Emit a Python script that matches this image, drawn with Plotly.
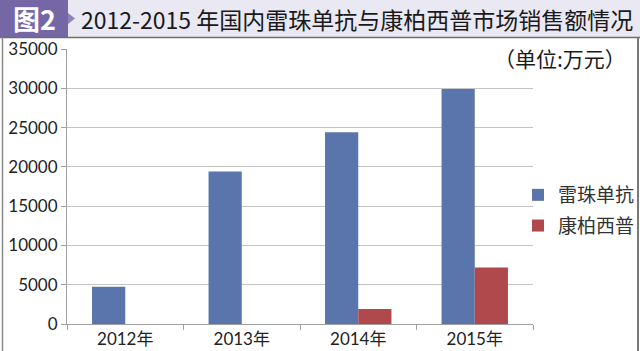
import plotly.graph_objects as go

categories = ["2012年", "2013年", "2014年", "2015年"]
ranibizumab = [4750, 19400, 24400, 29900]
conbercept = [0, 0, 1900, 7200]
series_names = ["雷珠单抗", "康柏西普"]
title_text = "2012-2015 年国内雷珠单抗与康柏西普市场销售额情况"
unit_text = "（单位:万元）"
y_ticks = [0, 5000, 10000, 15000, 20000, 25000, 30000, 35000]
y_tick_labels = ["0", "5000", "10000", "15000", "20000", "25000", "30000", "35000"]

W, H = 640, 351
L, R, T, B = 67, 107, 49, 27
pw, ph = W - L - R, H - T - B

def px(x):
    return (x - L) / pw

def py(y):
    return (H - B - y) / ph

font_fam = "Lato, Noto Sans CJK SC, sans-serif"
cjk = "Noto Sans CJK SC, sans-serif"

fig = go.Figure()
fig.add_trace(go.Bar(x=categories, y=ranibizumab, name=series_names[0],
                     marker=dict(color="#5a75ac", line=dict(width=0)), legendgroup="a"))
fig.add_trace(go.Bar(x=categories, y=conbercept, name=series_names[1],
                     marker=dict(color="#b0494b", line=dict(width=0)), legendgroup="b"))

shapes = [
    dict(type="rect", xref="paper", yref="paper", x0=px(0), x1=px(640), y0=py(37), y1=py(0),
         fillcolor="#e9e8f3", line=dict(width=0), layer="below"),
    dict(type="rect", xref="paper", yref="paper", x0=px(0), x1=px(68), y0=py(37), y1=py(0),
         fillcolor="#7566a6", line=dict(width=0)),
    dict(type="path", xref="paper", yref="paper",
         path=f"M {px(68)} {py(13)} L {px(75)} {py(18.5)} L {px(68)} {py(24)} Z",
         fillcolor="#8e82b8", line=dict(width=0)),
    dict(type="line", xref="paper", yref="paper", x0=px(0), x1=px(640), y0=py(37.5), y1=py(37.5),
         line=dict(color="#6d6d6d", width=1.5)),
    dict(type="line", xref="paper", yref="paper", x0=px(2.5), x1=px(2.5), y0=py(37), y1=py(351),
         line=dict(color="#8a8a8a", width=1.5)),
    dict(type="line", xref="paper", yref="paper", x0=px(638), x1=px(638), y0=py(37), y1=py(351),
         line=dict(color="#7a7a7a", width=2)),
]

annotations = [
    dict(text="<b>图2</b>", xref="paper", yref="paper", x=px(34), y=py(19), showarrow=False,
         xanchor="center", yanchor="middle", font=dict(family=cjk, size=27, color="white")),
    dict(text=title_text, xref="paper", yref="paper", x=px(79), y=py(19), showarrow=False,
         xanchor="left", yanchor="middle", font=dict(family=cjk, size=23, color="#1a1a1a")),
    dict(text=unit_text, xref="paper", yref="paper", x=px(628), y=py(58), showarrow=False,
         xanchor="right", yanchor="middle", font=dict(family=cjk, size=21, color="#1a1a1a")),
]

fig.update_layout(
    width=W, height=H,
    margin=dict(l=L, r=R, t=T, b=B, pad=0, autoexpand=False),
    paper_bgcolor="white", plot_bgcolor="white",
    barmode="group", bargap=0.43, bargroupgap=0,
    shapes=shapes, annotations=annotations,
    showlegend=True,
    legend=dict(x=px(518), y=py(176), xanchor="left", yanchor="top",
                font=dict(family=cjk, size=19, color="#333333"),
                traceorder="grouped", tracegroupgap=3, itemwidth=30,
                bgcolor="rgba(0,0,0,0)"),
    font=dict(family=font_fam),
)
fig.update_xaxes(type="category", showgrid=False, showline=True, linecolor="#a0a0a0", linewidth=1,
                 ticks="outside", tickson="boundaries", ticklen=5, tickcolor="#a0a0a0",
                 automargin=False,
                 tickfont=dict(family=font_fam, size=17, color="#222222"))
fig.update_yaxes(range=[0, 35000], tickvals=y_ticks, ticktext=y_tick_labels,
                 showgrid=True, gridcolor="#c4c4c4", gridwidth=1,
                 showline=True, linecolor="#a0a0a0", linewidth=1, ticks="outside", ticklen=5,
                 tickcolor="#a0a0a0", zeroline=False, automargin=False,
                 tickfont=dict(family=font_fam, size=17, color="#222222"))

fig.write_html("out.html")
